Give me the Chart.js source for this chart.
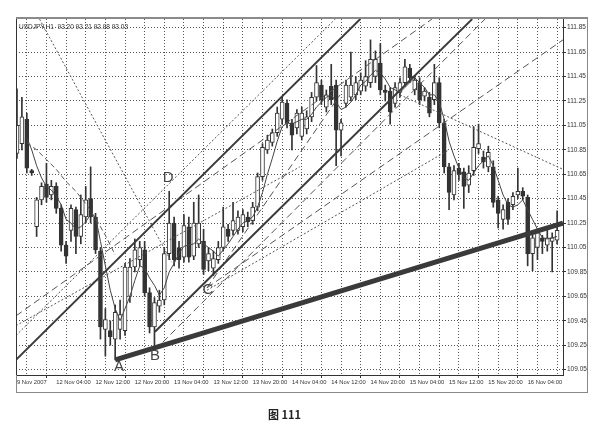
<!DOCTYPE html>
<html>
<head>
<meta charset="utf-8">
<script src="https://cdn.jsdelivr.net/npm/chart.js@4.4.0/dist/chart.umd.min.js"></script>
<style>
  html, body { margin: 0; padding: 0; background: #fff; }
  #wrap { position: relative; width: 602px; height: 434px; }
  #caption { position: absolute; left: 268px; top: 406px; font: bold 11px "Noto Sans CJK SC", sans-serif; color: #222; }
</style>
</head>
<body>
<div id="wrap">
  <canvas id="chart" width="602" height="434"></canvas>
  <div id="caption">图 111</div>
</div>
<script>
// USDJPY H1 candles, one per hour
const opens = [110.82, 110.90, 111.10, 110.68, 110.22, 110.44, 110.57, 110.48, 110.55, 110.37,
  110.07, 110.19, 110.36, 110.14, 110.30, 110.45, 110.30, 110.02, 109.38, 109.37,
  109.30, 109.38, 109.37, 109.65, 109.89, 109.95, 110.03, 109.68, 109.40, 109.57,
  109.62, 110.00, 110.25, 110.05, 109.97, 110.22, 109.98, 110.08, 110.10, 109.94,
  109.88, 109.95, 110.05, 110.20, 110.19, 110.19, 110.22, 110.30, 110.27, 110.38,
  110.63, 110.85, 110.91, 110.99, 111.10, 111.23, 111.07, 111.03, 110.96, 111.02,
  111.12, 111.28, 111.38, 111.20, 111.37, 111.38, 111.01, 111.23, 111.28, 111.30,
  111.33, 111.37, 111.40, 111.45, 111.56, 111.34, 111.33, 111.23, 111.32, 111.40,
  111.52, 111.34, 111.40, 111.29, 111.28, 111.26, 111.40, 111.07, 110.71, 110.48,
  110.70, 110.67, 110.56, 110.68, 110.86, 110.79, 110.71, 110.71, 110.44, 110.28,
  110.42, 110.40, 110.48, 110.51, 110.46, 110.00, 110.05, 110.13, 110.07, 110.10,
  110.11];
const highs = [111.35, 111.28, 111.15, 110.69, 110.46, 110.58, 110.74, 110.60, 110.58, 110.40,
  110.10, 110.40, 110.38, 110.48, 110.55, 110.71, 110.33, 110.05, 109.55, 109.45,
  109.58, 109.62, 109.92, 109.96, 110.12, 110.10, 110.10, 109.72, 109.64, 109.70,
  110.05, 110.51, 110.30, 110.10, 110.32, 110.30, 110.42, 110.48, 110.20, 110.05,
  110.02, 110.10, 110.38, 110.24, 110.42, 110.35, 110.36, 110.34, 110.42, 110.66,
  110.90, 110.97, 111.02, 111.20, 111.28, 111.26, 111.10, 111.18, 111.20, 111.17,
  111.32, 111.54, 111.42, 111.34, 111.55, 111.42, 111.10, 111.42, 111.65, 111.45,
  111.48, 111.58, 111.75, 111.66, 111.72, 111.38, 111.36, 111.40, 111.44, 111.59,
  111.55, 111.46, 111.44, 111.36, 111.32, 111.55, 111.44, 111.10, 110.74, 110.72,
  110.74, 110.70, 110.72, 111.04, 111.06, 110.84, 110.88, 110.76, 110.47, 110.40,
  110.45, 110.50, 110.70, 110.54, 110.48, 110.16, 110.20, 110.15, 110.22, 110.17,
  110.35];
const lows = [110.78, 110.85, 110.66, 110.64, 110.14, 110.40, 110.42, 110.44, 110.33, 110.02,
  109.92, 110.10, 110.00, 110.08, 110.25, 110.25, 110.00, 109.30, 109.16, 109.25,
  109.13, 109.30, 109.33, 109.60, 109.85, 109.90, 109.65, 109.35, 109.22, 109.52,
  109.58, 109.95, 109.90, 109.88, 109.93, 109.93, 109.95, 110.05, 109.83, 109.86,
  109.82, 109.92, 110.02, 110.10, 110.15, 110.16, 110.18, 110.22, 110.24, 110.35,
  110.60, 110.82, 110.88, 110.96, 111.06, 111.03, 110.85, 110.98, 110.93, 110.98,
  111.08, 111.25, 111.22, 111.16, 111.22, 110.72, 110.80, 111.20, 111.25, 111.26,
  111.30, 111.33, 111.36, 111.40, 111.30, 111.25, 111.06, 111.20, 111.28, 111.37,
  111.40, 111.30, 111.22, 111.25, 111.12, 111.22, 111.03, 110.66, 110.36, 110.44,
  110.60, 110.37, 110.50, 110.64, 110.82, 110.70, 110.67, 110.38, 110.21, 110.20,
  110.24, 110.36, 110.45, 110.44, 109.90, 109.86, 109.95, 110.00, 110.02, 109.85,
  110.08];
const closes = [111.05, 111.12, 110.70, 110.66, 110.44, 110.55, 110.46, 110.55, 110.37, 110.07,
  109.98, 110.37, 110.14, 110.32, 110.44, 110.30, 110.03, 109.40, 109.46, 109.32,
  109.52, 109.50, 109.89, 109.89, 110.03, 110.05, 109.68, 109.40, 109.60, 109.62,
  110.00, 110.25, 109.95, 109.95, 110.23, 109.97, 110.25, 110.25, 109.87, 110.00,
  109.96, 110.05, 110.22, 110.14, 110.27, 110.30, 110.32, 110.26, 110.38, 110.63,
  110.87, 110.93, 110.99, 111.15, 111.24, 111.07, 110.97, 111.15, 111.15, 111.12,
  111.28, 111.40, 111.26, 111.30, 111.26, 111.01, 111.07, 111.38, 111.38, 111.40,
  111.42, 111.45, 111.59, 111.59, 111.34, 111.32, 111.16, 111.36, 111.40, 111.53,
  111.44, 111.42, 111.26, 111.33, 111.15, 111.40, 111.07, 110.71, 110.50, 110.68,
  110.65, 110.55, 110.66, 110.87, 110.90, 110.75, 110.83, 110.42, 110.33, 110.36,
  110.28, 110.47, 110.51, 110.47, 110.00, 110.13, 110.17, 110.10, 110.13, 110.13,
  110.19];
// thin moving average line, read by eye (starts at bar 2)
const maValues = [null, null, 110.95, 110.85, 110.72, 110.62, 110.55, 110.52, 110.47, 110.40,
  110.28, 110.25, 110.20, 110.22, 110.26, 110.32, 110.30, 110.10, 109.90, 109.70,
  109.55, 109.45, 109.55, 109.65, 109.78, 109.90, 109.88, 109.80, 109.74, 109.66,
  109.72, 109.85, 109.92, 110.00, 110.06, 110.07, 110.08, 110.12, 110.08, 110.05,
  110.02, 109.98, 110.03, 110.08, 110.14, 110.20, 110.25, 110.27, 110.30, 110.38,
  110.50, 110.65, 110.78, 110.92, 111.04, 111.07, 111.06, 111.08, 111.10, 111.10,
  111.14, 111.20, 111.24, 111.28, 111.30, 111.24, 111.18, 111.20, 111.24, 111.30,
  111.38, 111.41, 111.46, 111.50, 111.48, 111.43, 111.36, 111.34, 111.32, 111.36,
  111.40, 111.44, 111.40, 111.36, 111.30, 111.30, 111.24, 111.10, 110.92, 110.80,
  110.70, 110.62, 110.60, 110.66, 110.72, 110.76, 110.80, 110.72, 110.60, 110.48,
  110.40, 110.38, 110.40, 110.44, 110.36, 110.28, 110.20, 110.13, 110.12, 110.13,
  110.14];
// slower dashed average, only visible at the left
const slowMaBars = [2, 4, 6, 8, 10, 12, 14, 16, 18, 20];
const slowMaValues = [110.91, 110.85, 110.77, 110.69, 110.59, 110.51, 110.41, 110.29, 110.15, 109.99];

const timeLabels = ['9 Nov 2007', '12 Nov 04:00', '12 Nov 12:00', '12 Nov 20:00', '13 Nov 04:00',
  '13 Nov 12:00', '13 Nov 20:00', '14 Nov 04:00', '14 Nov 12:00', '14 Nov 20:00',
  '15 Nov 04:00', '15 Nov 12:00', '15 Nov 20:00', '16 Nov 04:00'];
const priceTicks = [109.05, 109.25, 109.45, 109.65, 109.85, 110.05, 110.25, 110.45,
  110.65, 110.85, 111.05, 111.25, 111.45, 111.65, 111.85];

// trend lines: [bar, price] end points
const lineAB = [[20, 109.13], [111.2, 110.25]];          // thick support A-B
const channelTop = [[-0.2, 109.13], [69.9, 111.92]];     // through D
const channelBottom = [[28.1, 109.36], [92.7, 111.92]];  // through C
const channelTopOuter = [[-0.2, 109.33], [64.8, 111.92]];
const fanLeftDash = [[-0.2, 109.49], [84.5, 111.92]];
const fanLeftDot = [[-0.2, 109.41], [57.6, 110.71]];
const fanCDash = [[38.7, 109.72], [111.2, 111.75]];
const fanCDot = [[38.7, 109.70], [88, 110.85]];
const fanCSteep = [[38.7, 109.72], [65.8, 111.30]];
const fanBParallel = [[28.1, 109.21], [95.3, 111.92]];
const arcLeft = [[4.6, 111.92], [31.5, 109.93]];
const arcRight = [[78, 111.30], [111.2, 110.69]];

const toPts = seg => seg.map(p => ({ x: p[0], y: p[1] }));
const idx = opens.map((o, i) => i);
const bullish = idx.map(i => closes[i] >= opens[i]);

const lineSet = (seg, width, dash, order) => ({
  type: 'line', data: toPts(seg), borderColor: '#3a3a3a', borderWidth: width,
  borderDash: dash, pointRadius: 0, order: order
});
const thinSet = (seg, dash) => Object.assign(lineSet(seg, 1, dash, 1), { borderColor: '#555' });

const labelsPlugin = {
  id: 'decor',
  afterDraw(chart) {
    const { ctx, chartArea: a, scales: { x, y } } = chart;
    ctx.save();
    // terminal window frame
    ctx.strokeStyle = '#888';
    ctx.lineWidth = 1;
    ctx.strokeRect(a.left + 0.5, a.top - 0.5, a.right - a.left + 24, a.bottom - a.top + 18);
    ctx.fillStyle = '#8a8a8a';
    ctx.fillRect(a.left, a.top - 2, a.right - a.left + 25, 2);
    ctx.fillStyle = '#333';
    ctx.fillRect(a.left, a.top, 1, a.bottom - a.top);
    // symbol header
    ctx.font = '6.5px "Liberation Sans"';
    ctx.textBaseline = 'middle';
    ctx.fillText('USDJPY,H1  93.20 93.21 92.98 93.03', a.left + 3, a.top + 8);
    // point letters
    ctx.font = '15px "Liberation Sans"';
    ctx.fillStyle = '#444';
    ctx.textAlign = 'center';
    [['A', 20.8, 109.07], ['B', 28.1, 109.16], ['C', 38.9, 109.70], ['D', 30.8, 110.62]].forEach(t => {
      ctx.fillText(t[0], x.getPixelForValue(t[1]), y.getPixelForValue(t[2]));
    });
    ctx.restore();
  }
};

new Chart(document.getElementById('chart'), {
  type: 'bar',
  data: {
    datasets: [
      lineSet(lineAB, 5, [], 0),
      lineSet(channelTop, 2, [], 1),
      lineSet(channelBottom, 2, [], 1),
      thinSet(channelTopOuter, [2, 2]),
      thinSet(fanLeftDash, [7, 4]),
      thinSet(fanLeftDot, [2, 2]),
      thinSet(fanCDash, [7, 4]),
      thinSet(fanCDot, [2, 2]),
      thinSet(fanCSteep, [7, 4]),
      thinSet(fanBParallel, [7, 4]),
      thinSet(arcLeft, [2, 2]),
      thinSet(arcRight, [2, 2]),
      thinSet(slowMaBars.map((b, k) => [b, slowMaValues[k]]), [5, 3]),
      {
        type: 'line', data: idx.map(i => ({ x: i, y: maValues[i] })), borderColor: '#444',
        borderWidth: 1, pointRadius: 0, order: 2, spanGaps: false
      },
      {
        label: 'body', data: idx.map(i => ({ x: i, y: [Math.min(opens[i], closes[i]), Math.max(opens[i], closes[i])] })),
        backgroundColor: idx.map(i => bullish[i] ? '#fff' : '#333'), borderColor: '#333',
        borderWidth: 1, borderSkipped: false, barThickness: 4, grouped: false, order: 3
      },
      {
        label: 'wick', data: idx.map(i => ({ x: i, y: [lows[i], highs[i]] })),
        backgroundColor: '#333', barThickness: 1, grouped: false, order: 4
      }
    ]
  },
  options: {
    responsive: false,
    animation: false,
    layout: { padding: { left: 16, top: 19, right: 0, bottom: 0 } },
    plugins: { legend: { display: false }, tooltip: { enabled: false } },
    scales: {
      x: {
        type: 'linear', min: -0.2, max: 111.2, offset: false,
        afterFit: s => { s.height = 59; },
        afterBuildTicks: s => { s.ticks = []; for (let v = 0; v <= 108; v += 4) s.ticks.push({ value: v }); },
        ticks: {
          align: 'start', maxRotation: 0, autoSkip: false, padding: 1, color: '#333',
          font: { family: 'Liberation Sans', size: 5.8 },
          callback: v => v % 8 === 0 ? timeLabels[v / 8] : ''
        },
        grid: {
          color: '#555', lineWidth: 1, tickLength: 3,
          tickColor: c => (c.tick && c.tick.value % 8 === 0) ? '#333' : 'rgba(0,0,0,0)'
        },
        border: { display: true, color: '#333', width: 1, dash: [1, 2] }
      },
      y: {
        position: 'right', min: 109.006, max: 111.921,
        afterFit: s => { s.width = 39; },
        afterBuildTicks: s => { s.ticks = priceTicks.map(v => ({ value: v })); },
        ticks: {
          padding: 1, color: '#333', font: { family: 'Liberation Sans', size: 6.5 },
          callback: v => v.toFixed(2)
        },
        grid: { color: '#555', lineWidth: 1, tickLength: 3, tickColor: '#333' },
        border: { display: true, color: '#333', width: 1, dash: [1, 2] }
      }
    }
  },
  plugins: [labelsPlugin]
});
</script>
</body>
</html>
